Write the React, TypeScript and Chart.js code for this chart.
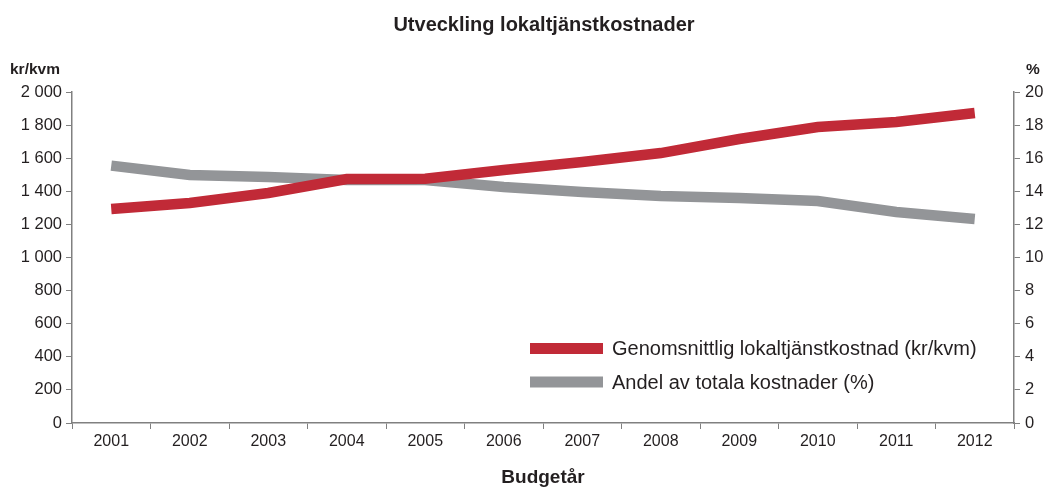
import React, { useEffect, useRef } from "react";
import { Chart, registerables } from "chart.js";

Chart.register(...registerables);

const years = ["2001", "2002", "2003", "2004", "2005", "2006", "2007", "2008", "2009", "2010", "2011", "2012"];
const costPerSqm = [1293, 1329, 1390, 1474, 1476, 1529, 1577, 1631, 1716, 1788, 1819, 1873];
const shareOfTotal = [15.55, 14.98, 14.86, 14.68, 14.68, 14.26, 13.96, 13.72, 13.6, 13.41, 12.75, 12.33];
const costLabel = "Genomsnittlig lokaltjänstkostnad (kr/kvm)";
const shareLabel = "Andel av totala kostnader (%)";
const titleText = "Utveckling lokaltjänstkostnader";
const xTitle = "Budgetår";
const leftUnit = "kr/kvm";
const rightUnit = "%";

const RED = "#c12a37";
const GRAY = "#939598";
const TEXT = "#231f20";
const AXIS = "#808080";
const FONT = "'Liberation Sans', Arial, sans-serif";

const overlay = {
  id: "overlay",
  afterDraw(chart: any) {
    const ctx = chart.ctx;
    const area = chart.chartArea;
    ctx.save();
    ctx.fillStyle = TEXT;
    ctx.textBaseline = "alphabetic";
    ctx.font = `bold 20px ${FONT}`;
    ctx.textAlign = "center";
    ctx.fillText(titleText, 544, 31);
    ctx.font = `bold 19px ${FONT}`;
    ctx.fillText(xTitle, (area.left + area.right) / 2, 483);
    ctx.font = `bold 15.5px ${FONT}`;
    ctx.textAlign = "left";
    ctx.fillText(leftUnit, 10, 74);
    ctx.fillText(rightUnit, 1026, 74);

    // legend
    const items = [
      { c: RED, t: costLabel, y: 348.5 },
      { c: GRAY, t: shareLabel, y: 382 },
    ];
    ctx.font = `20px ${FONT}`;
    ctx.textBaseline = "middle";
    for (const it of items) {
      ctx.fillStyle = it.c;
      ctx.fillRect(530, it.y - 5.5, 73, 11);
      ctx.fillStyle = TEXT;
      ctx.fillText(it.t, 612, it.y + 1);
    }
    ctx.restore();
  },
};

export default function App() {
  const ref = useRef<HTMLCanvasElement>(null);
  useEffect(() => {
    document.body.style.margin = "0";
    const chart = new Chart(ref.current!, {
      type: "line",
      data: {
        labels: years,
        datasets: [
          {
            label: costLabel,
            data: costPerSqm,
            borderColor: RED,
            backgroundColor: RED,
            borderWidth: 10.5,
            pointRadius: 0,
            tension: 0,
            yAxisID: "y",
          },
          {
            label: shareLabel,
            data: shareOfTotal,
            borderColor: GRAY,
            backgroundColor: GRAY,
            borderWidth: 10.5,
            pointRadius: 0,
            tension: 0,
            yAxisID: "y1",
            order: 1,
          },
        ],
      },
      options: {
        animation: false,
        responsive: false,
        maintainAspectRatio: false,
        layout: { padding: { top: 92, left: 0, right: 0, bottom: 0 } },
        plugins: { legend: { display: false }, title: { display: false }, tooltip: { enabled: false } },
        scales: {
          x: {
            offset: true,
            grid: { offset: true, drawOnChartArea: false, color: AXIS, tickLength: 6, lineWidth: 1 },
            border: { color: AXIS, width: 1.5 },
            ticks: { color: TEXT, font: { family: FONT, size: 16 }, padding: 3, maxRotation: 0 },
            afterFit: (s: any) => { s.height = 65; },
          },
          y: {
            position: "left",
            min: 0,
            max: 2000,
            ticks: {
              stepSize: 200,
              color: TEXT,
              font: { family: FONT, size: 16.5 },
              padding: 4,
              callback: (v: any) => String(v).replace(/\B(?=(\d{3})+(?!\d))/g, " "),
            },
            grid: { drawOnChartArea: false, color: AXIS, tickLength: 6 },
            border: { color: AXIS, width: 1.5 },
            afterFit: (s: any) => { s.width = 72; },
          },
          y1: {
            position: "right",
            min: 0,
            max: 20,
            ticks: { stepSize: 2, color: TEXT, font: { family: FONT, size: 16.5 }, padding: 5 },
            grid: { drawOnChartArea: false, color: AXIS, tickLength: 6 },
            border: { color: AXIS, width: 1.5 },
            afterFit: (s: any) => { s.width = 34; },
          },
        },
      },
      plugins: [overlay],
    });
    return () => chart.destroy();
  }, []);
  return <canvas ref={ref} width={1048} height={488} style={{ display: "block" }} />;
}
